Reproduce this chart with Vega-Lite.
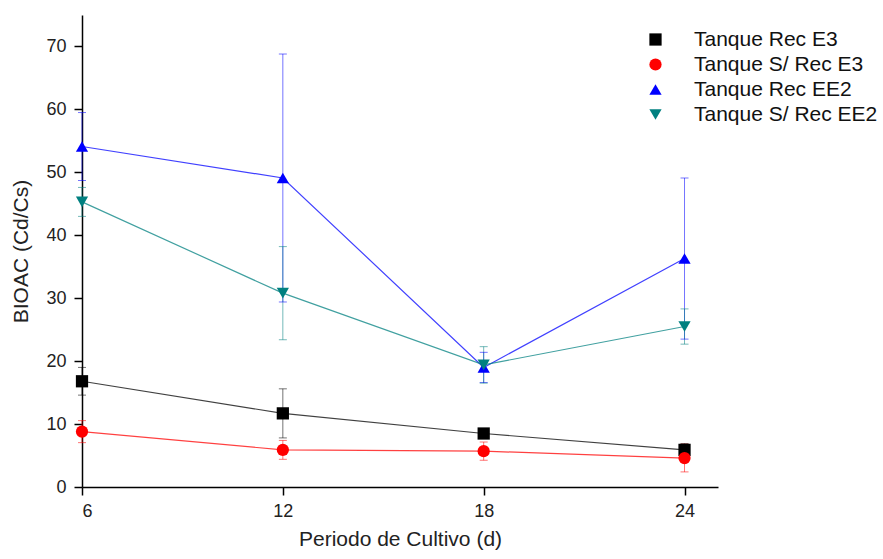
{
  "$schema": "https://vega.github.io/schema/vega-lite/v6.json",
  "width": 636,
  "height": 472,
  "autosize": {"type": "none"},
  "padding": {"left": 82, "top": 15, "right": 165, "bottom": 72},
  "background": "white",
  "config": {
    "font": "Liberation Sans",
    "view": {"stroke": null},
    "axis": {"grid": false, "domainColor": "#000000", "domainWidth": 1.5, "tickColor": "#000000", "tickWidth": 1.5, "labelColor": "#222222", "labelFontSize": 18, "titleFontSize": 21, "titleFontWeight": "normal", "titleColor": "#222222", "labelFont": "Liberation Sans", "titleFont": "Liberation Sans"}
  },
  "data": {"values": [
    {"x": 6, "s": "Tanque Rec E3", "y": 16.8, "lo": 14.6, "hi": 19.0},
    {"x": 12, "s": "Tanque Rec E3", "y": 11.7, "lo": 7.8, "hi": 15.6},
    {"x": 18, "s": "Tanque Rec E3", "y": 8.5, "lo": 8.0, "hi": 9.0},
    {"x": 24, "s": "Tanque Rec E3", "y": 5.9, "lo": 4.9, "hi": 6.9},
    {"x": 6, "s": "Tanque S/ Rec E3", "y": 8.8, "lo": 7.05, "hi": 10.55},
    {"x": 12, "s": "Tanque S/ Rec E3", "y": 5.9, "lo": 4.4, "hi": 7.4},
    {"x": 18, "s": "Tanque S/ Rec E3", "y": 5.7, "lo": 4.25, "hi": 7.15},
    {"x": 24, "s": "Tanque S/ Rec E3", "y": 4.6, "lo": 2.4, "hi": 6.8},
    {"x": 6, "s": "Tanque Rec EE2", "y": 54.1, "lo": 48.7, "hi": 59.5},
    {"x": 12, "s": "Tanque Rec EE2", "y": 49.1, "lo": 29.4, "hi": 68.8},
    {"x": 18, "s": "Tanque Rec EE2", "y": 19.0, "lo": 16.6, "hi": 21.4},
    {"x": 24, "s": "Tanque Rec EE2", "y": 36.3, "lo": 23.5, "hi": 49.1},
    {"x": 6, "s": "Tanque S/ Rec EE2", "y": 45.3, "lo": 43.0, "hi": 47.6},
    {"x": 12, "s": "Tanque S/ Rec EE2", "y": 30.8, "lo": 23.4, "hi": 38.2},
    {"x": 18, "s": "Tanque S/ Rec EE2", "y": 19.4, "lo": 16.5, "hi": 22.3},
    {"x": 24, "s": "Tanque S/ Rec EE2", "y": 25.5, "lo": 22.7, "hi": 28.3}
  ]},
  "encoding": {
    "x": {"field": "x", "type": "quantitative", "scale": {"domain": [6, 25], "nice": false, "zero": false},
      "axis": {"values": [6, 12, 18, 24], "title": "Periodo de Cultivo (d)", "tickSize": 8, "labelPadding": 7, "titleY": 41, "titleBaseline": "top", "format": "d"}}
  },
  "layer": [
    {
      "mark": {"type": "rule", "strokeWidth": 1, "opacity": 0.55},
      "encoding": {
        "y": {"field": "lo", "type": "quantitative"},
        "y2": {"field": "hi"},
        "stroke": {"field": "s", "type": "nominal", "legend": null,
          "scale": {"domain": ["Tanque S/ Rec EE2", "Tanque Rec EE2", "Tanque S/ Rec E3", "Tanque Rec E3"], "range": ["#008080", "#0000FF", "#FF0000", "#000000"]}}
      }
    },
    {
      "mark": {"type": "tick", "orient": "horizontal", "size": 8, "thickness": 1, "opacity": 0.55},
      "encoding": {"y": {"field": "lo", "type": "quantitative"},
        "fill": {"field": "s", "type": "nominal", "legend": null,
          "scale": {"domain": ["Tanque S/ Rec EE2", "Tanque Rec EE2", "Tanque S/ Rec E3", "Tanque Rec E3"], "range": ["#008080", "#0000FF", "#FF0000", "#000000"]}}}
    },
    {
      "mark": {"type": "tick", "orient": "horizontal", "size": 8, "thickness": 1, "opacity": 0.55},
      "encoding": {"y": {"field": "hi", "type": "quantitative"},
        "fill": {"field": "s", "type": "nominal", "legend": null}}
    },
    {
      "mark": {"type": "line", "strokeWidth": 1.2, "opacity": 0.75},
      "encoding": {
        "y": {"field": "y", "type": "quantitative"},
        "stroke": {"field": "s", "type": "nominal", "legend": null}
      }
    },
    {
      "mark": {"type": "point", "filled": true, "size": 150, "opacity": 1},
      "encoding": {
        "y": {"field": "y", "type": "quantitative",
          "scale": {"domain": [0, 75], "nice": false},
          "axis": {"values": [0, 5, 10, 15, 20, 25, 30, 35, 40, 45, 50, 55, 60, 65, 70, 75],
            "labelExpr": "datum.value % 10 === 0 ? datum.label : ''",
            "tickSize": {"condition": {"test": "datum.value % 10 === 0", "value": 8}, "value": 4},
            "labelPadding": 8, "title": "BIOAC (Cd/Cs)", "titleX": -51}},
        "color": {"field": "s", "type": "nominal",
          "scale": {"domain": ["Tanque Rec E3", "Tanque S/ Rec E3", "Tanque Rec EE2", "Tanque S/ Rec EE2"], "range": ["#000000", "#FF0000", "#0000FF", "#008080"]},
          "legend": {
            "title": null, "orient": "none", "legendX": 563, "legendY": 14, "padding": 0,
            "symbolSize": 150, "labelFontSize": 21, "labelColor": "#111111", "labelOffset": 28, "rowPadding": 3, "labelFont": "Liberation Sans", "labelLimit": 400
          }},
        "shape": {"field": "s", "type": "nominal",
          "scale": {"domain": ["Tanque Rec E3", "Tanque S/ Rec E3", "Tanque Rec EE2", "Tanque S/ Rec EE2"], "range": ["square", "circle", "triangle-up", "triangle-down"]},
          "legend": null}
      }
    }
  ]
}
